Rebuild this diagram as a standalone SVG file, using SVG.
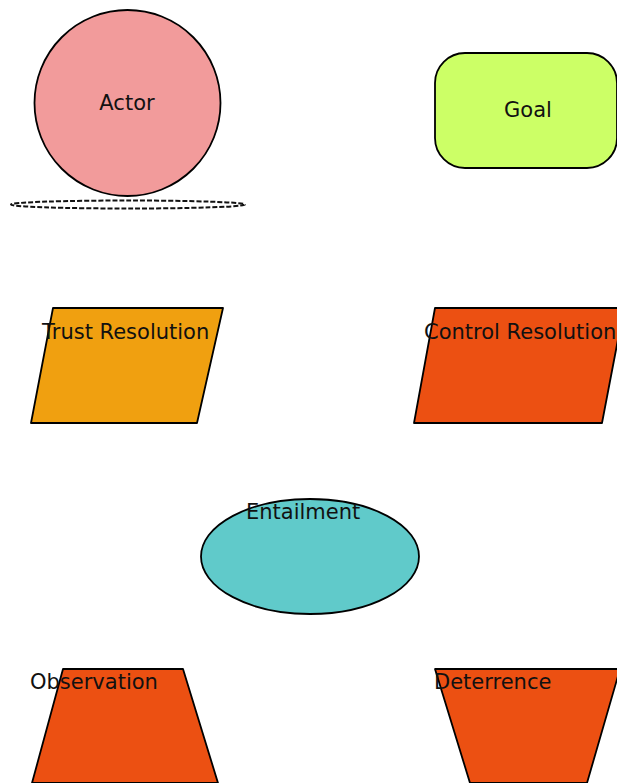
<svg xmlns="http://www.w3.org/2000/svg" width="617" height="783" viewBox="0 0 617 783">
  <style>
    .shape { stroke: #000; stroke-width: 1.8; stroke-linejoin: round; }
    .lbl { font-family: "DejaVu Sans", "Liberation Sans", sans-serif; font-size: 21px; fill: #111111; }
    .mid { text-anchor: middle; }
  </style>
  <rect width="617" height="783" fill="#ffffff"/>

  <g id="actor">
    <circle class="shape" cx="127.5" cy="103" r="93" fill="#F29B9B"/>
    <!-- dashed ground shadow under the actor -->
    <ellipse cx="128" cy="204.5" rx="117" ry="4" fill="none" stroke="#111" stroke-width="2" stroke-dasharray="5 2"/>
    <text class="lbl mid" x="127" y="110">Actor</text>
  </g>

  <g id="goal">
    <rect class="shape" x="435" y="53" width="182" height="115" rx="30" ry="30" fill="#CCFF66"/>
    <text class="lbl mid" x="528" y="117">Goal</text>
  </g>

  <g id="trust-resolution">
    <polygon class="shape" points="53,308 223,308 197,423 31,423" fill="#F0A010"/>
    <text class="lbl" x="42" y="339">Trust Resolution</text>
  </g>

  <g id="control-resolution">
    <polygon class="shape" points="435,308 624,308 602,423 414,423" fill="#EC5012"/>
    <text class="lbl" x="424" y="339">Control Resolution</text>
  </g>

  <g id="entailment">
    <ellipse class="shape" cx="310" cy="556.5" rx="109" ry="57.5" fill="#60CACA"/>
    <text class="lbl" x="246" y="519">Entailment</text>
  </g>

  <g id="observation">
    <polygon class="shape" points="63,669 183,669 218,783 32,783" fill="#EC5012"/>
    <text class="lbl" x="30" y="689">Observation</text>
  </g>

  <g id="deterrence">
    <polygon class="shape" points="435,669 620,669 587,783 470,783" fill="#EC5012"/>
    <text class="lbl" x="434" y="689">Deterrence</text>
  </g>

  <g id="connectors"></g>
</svg>
